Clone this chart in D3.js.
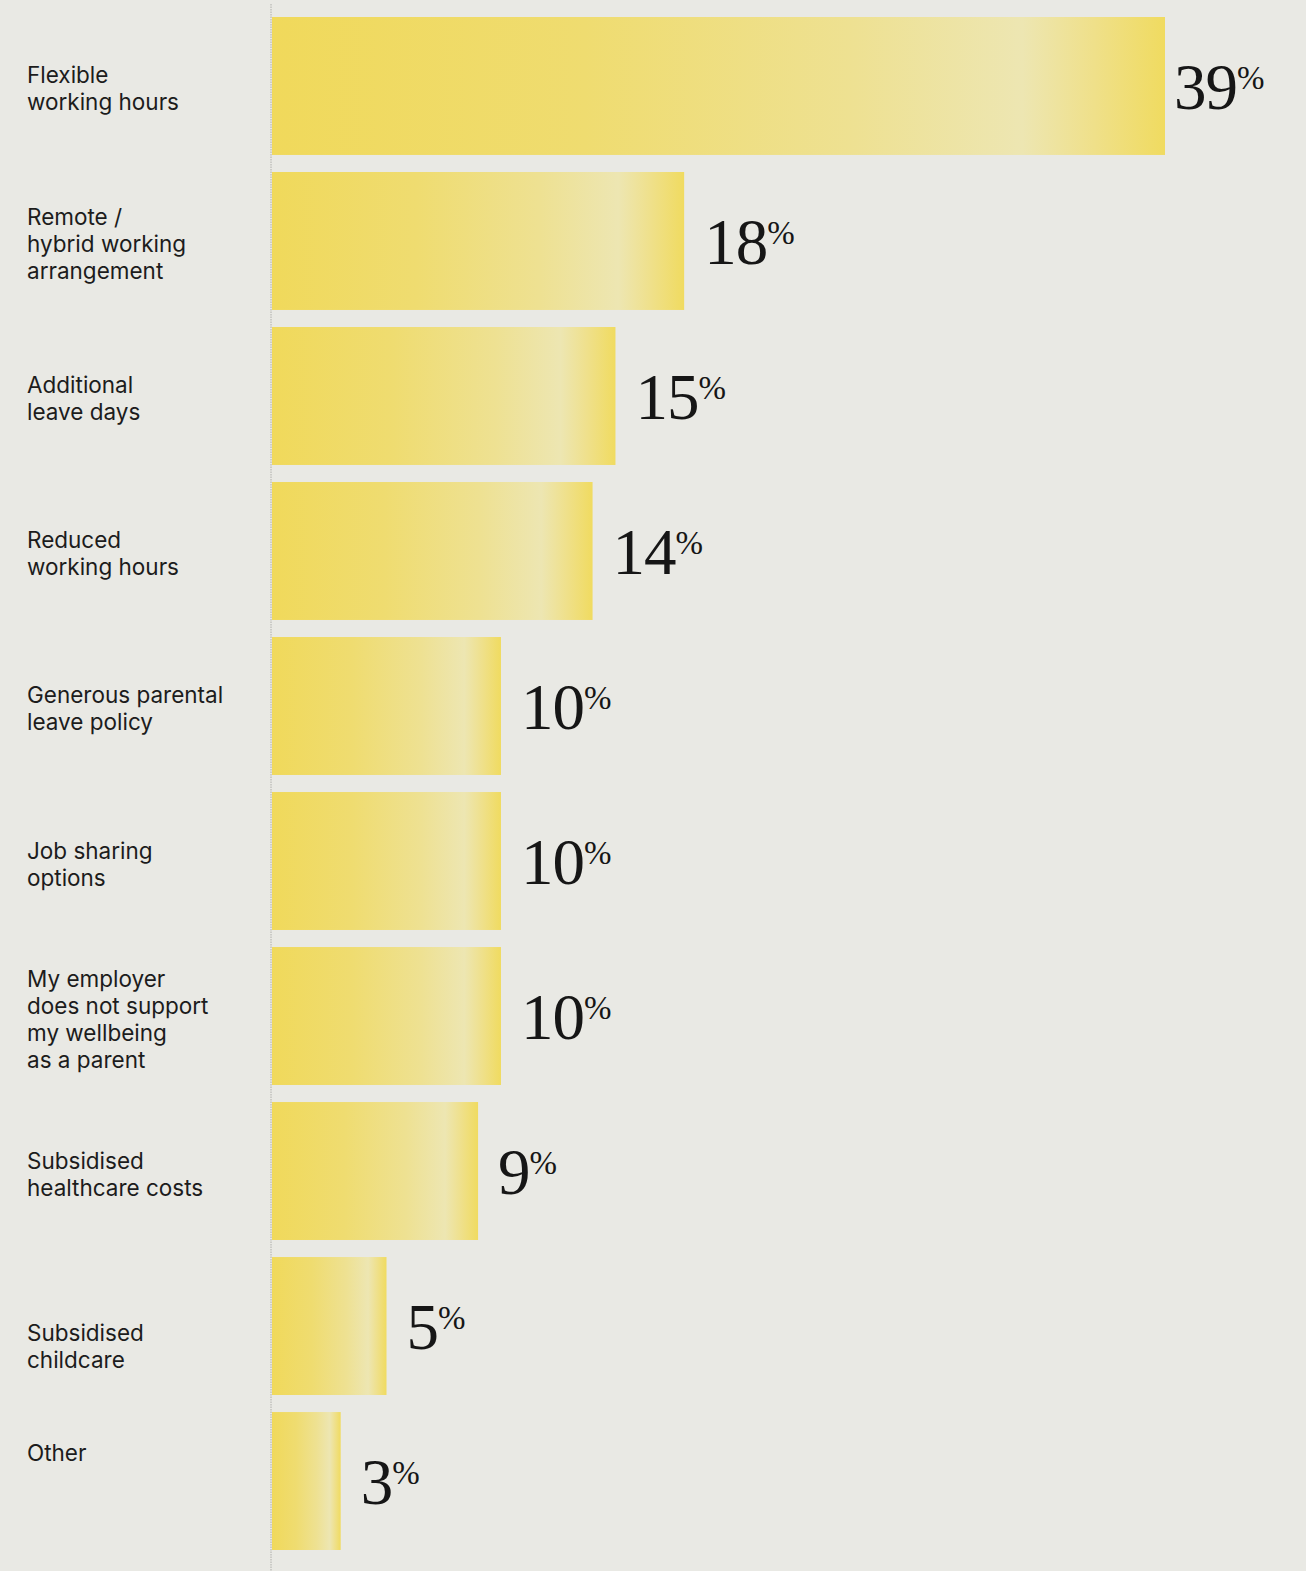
<!DOCTYPE html>
<html lang="en">
<head>
    <meta charset="UTF-8">
    <title>Parent benefits</title>
    <script src="https://cdn.jsdelivr.net/npm/d3@7"></script>
    <style>
        html, body {
            margin: 0;
            padding: 0;
            width: 100%;
            height: 100%;
            overflow: hidden;
            background: #e9e9e4;
        }
    </style>
</head>
<body>
</body>
<script>
    let width = 1306;
    let height = 1571;

    let categories = [
        'Flexible\nworking hours',
        'Remote /\nhybrid working\narrangement',
        'Additional\nleave days',
        'Reduced\nworking hours',
        'Generous parental\nleave policy',
        'Job sharing\noptions',
        'My employer\ndoes not support\nmy wellbeing\nas a parent',
        'Subsidised\nhealthcare costs',
        'Subsidised\nchildcare',
        'Other'
    ];
    let values = [39, 18, 15, 14, 10, 10, 10, 9, 5, 3];

    // small nudges so labels sit like in the print layout
    let labelShift = [3, 3, 3, 3, 3, 3, 3, 3, 20, -28];

    let svg = d3.select('body').append('svg')
        .attr('width', width)
        .attr('height', height);

    // bar fill: saturated left, fading to pale, then saturated edge
    let grad = svg.append('defs').append('linearGradient')
        .attr('id', 'barFill')
        .attr('x1', '0%').attr('x2', '100%')
        .attr('y1', '0%').attr('y2', '0%');
    [
        [0, '#f0d95b'],
        [0.35, '#efdc70'],
        [0.65, '#eee192'],
        [0.84, '#ede6b2'],
        [0.92, '#efe08a'],
        [1, '#f0db60']
    ].forEach(s => grad.append('stop').attr('offset', s[0]).attr('stop-color', s[1]));

    let x = d3.scaleLinear()
        .domain([0, 39])
        .range([272, 1165]);

    let y = d3.scaleBand()
        .domain(categories)
        .range([17, 1550])
        .paddingInner(0.11)
        .paddingOuter(0);

    // axis line
    svg.append('line')
        .attr('x1', 271).attr('x2', 271)
        .attr('y1', 4).attr('y2', height)
        .attr('stroke', '#aeaeaa')
        .attr('stroke-width', 1)
        .attr('stroke-dasharray', '1.5,1');

    let rows = svg.append('g')
        .selectAll('g')
        .data(categories)
        .enter().append('g');

    rows.append('rect')
        .attr('x', x(0))
        .attr('y', d => y(d))
        .attr('width', (d, i) => x(values[i]) - x(0))
        .attr('height', y.bandwidth())
        .attr('fill', 'url(#barFill)');

    // category labels
    let lineH = 27;
    rows.append('text')
        .attr('font-family', 'Inter, "Noto Sans", sans-serif')
        .attr('font-size', 22.5)
        .attr('fill', '#1c1c1c')
        .each(function (d, i) {
            let lines = d.split('\n');
            let cy = y(d) + y.bandwidth() / 2 + labelShift[i];
            let first = cy - (lines.length - 1) * lineH / 2 + 8;
            d3.select(this).selectAll('tspan')
                .data(lines)
                .enter().append('tspan')
                .attr('x', 27)
                .attr('y', (l, j) => first + j * lineH)
                .text(l => l);
        });

    // value labels
    let val = rows.append('text')
        .attr('x', (d, i) => x(values[i]) + (i === 0 ? 9 : 20))
        .attr('y', d => y(d) + y.bandwidth() / 2 + 23)
        .attr('font-family', '"Liberation Serif", "DejaVu Serif", serif')
        .attr('fill', '#161616');

    val.append('tspan')
        .attr('font-size', 65)
        .attr('letter-spacing', -1)
        .text((d, i) => values[i]);

    val.append('tspan')
        .attr('font-size', 33)
        .attr('dy', -20)
        .text('%');
</script>
</html>
